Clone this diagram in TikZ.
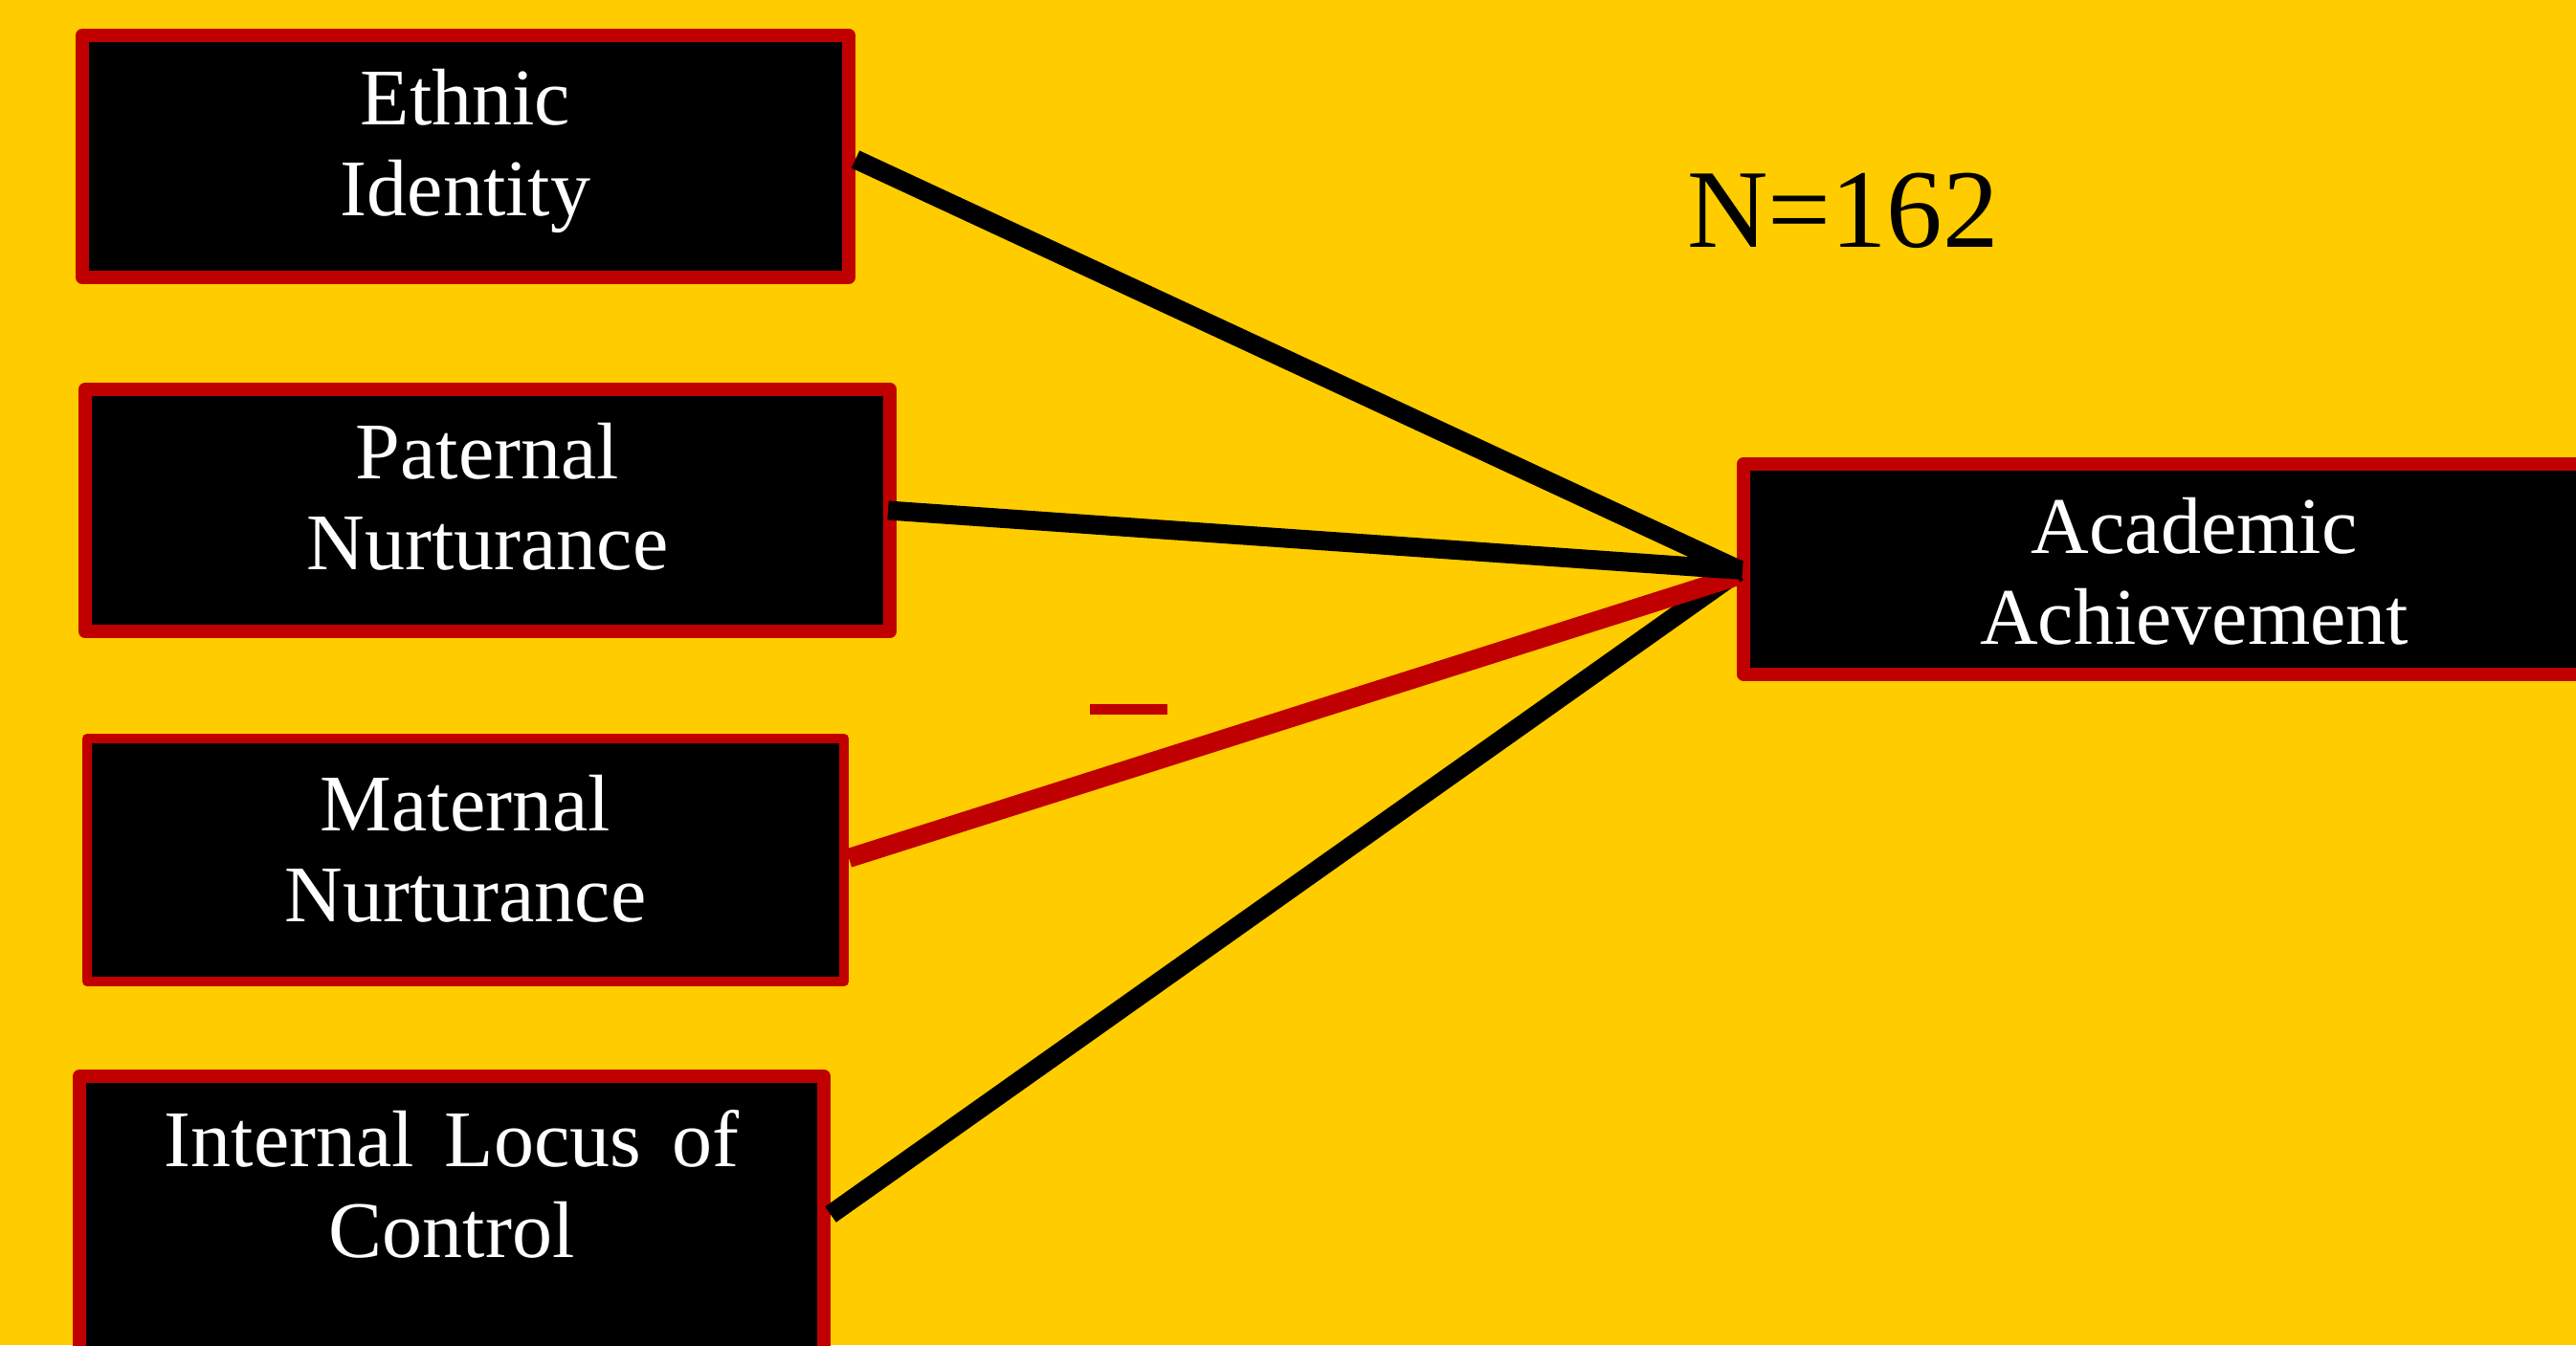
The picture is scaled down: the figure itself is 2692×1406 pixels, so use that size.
\documentclass[tikz,border=0pt]{standalone}
\usepackage{fontspec}
\setmainfont{Liberation Serif}
\definecolor{bgyellow}{RGB}{255,204,0}
\definecolor{framered}{RGB}{192,0,0}
\begin{document}
\begin{tikzpicture}[x=1pt,y=-1pt,
  varbox/.style={draw=framered, fill=black, line width=14pt, line join=round,
                 rectangle, inner sep=0pt},
  lbl/.style={font=\fontsize{84}{95}\selectfont, align=center, inner sep=0pt,
              text=white, anchor=north},
  path/.style={line width=20pt, draw=black},
  negpath/.style={line width=20pt, draw=framered}]

% canvas
\fill[bgyellow] (0,0) rectangle (2692,1406);
\useasboundingbox (0,0) rectangle (2692,1406);

% predictor boxes and outcome box
\node[varbox, minimum width=801pt, minimum height=253pt] (eth) at (486.5,163.5) {};
\node[varbox, minimum width=841pt, minimum height=253pt] (pat) at (509.5,533.5) {};
\node[varbox, line width=10pt, minimum width=791pt, minimum height=254pt] (mat) at (486.5,899) {};
\node[varbox, minimum width=778pt, minimum height=300pt] (loc) at (472,1275) {};
\node[varbox, minimum width=942pt, minimum height=220pt] (ach) at (2293,595) {};

% paths into academic achievement
\draw[path] ([yshift=-151.5pt]loc.north east) -- ([xshift=1pt,yshift=-3pt]ach.west);
\draw[negpath] ([yshift=2pt]mat.east) -- ([xshift=1pt,yshift=-7pt]ach.west);
\draw[path] ([xshift=-9pt]pat.east) -- ([xshift=6pt,yshift=-1pt]ach.west);
\draw[path] ([yshift=-3pt]eth.east) -- ([xshift=1pt]ach.west);

% negative sign on the maternal path
\node[fill=framered, inner sep=0pt, minimum width=81pt, minimum height=11pt] (minus) at (1179.5,741.5) {};

% box labels
\node[lbl] (ethT) at ([yshift=-33.5pt]eth.north) {\strut Ethnic\\Identity};
\node[lbl] (patT) at ([yshift=-33.5pt]pat.north) {\strut Paternal\\Nurturance};
\node[lbl] (matT) at ([yshift=-34.5pt]mat.north) {\strut Maternal\\Nurturance};
\node[lbl] (locT) at ([yshift=-34.5pt]loc.north) {\strut Internal\hspace{32pt}Locus\hspace{32pt}of\\Control};
\node[lbl] (achT) at ([yshift=-33.5pt]ach.north) {\strut Academic\\Achievement};

% sample size
\node[font=\fontsize{117}{130}\selectfont, anchor=base, inner sep=0pt] (nsize) at (1926,258) {N=162};
\end{tikzpicture}
\end{document}
